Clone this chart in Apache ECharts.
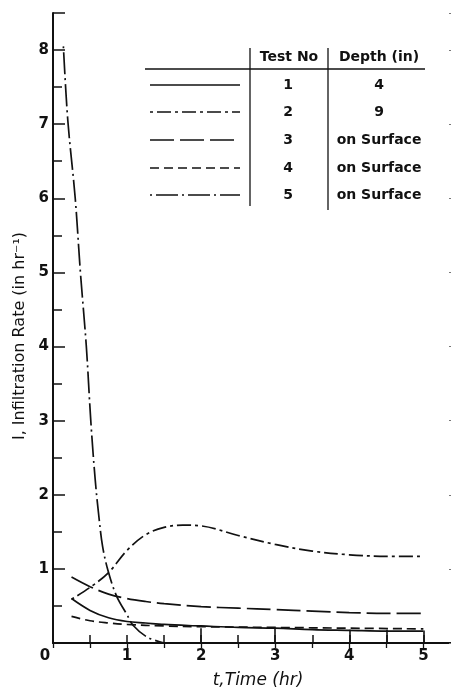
<!DOCTYPE html>
<html>
<head>
<meta charset="utf-8">
<script src="https://cdn.jsdelivr.net/npm/echarts/dist/echarts.min.js"></script>
<style>
  html, body { margin: 0; padding: 0; background: #fff; }
  #chart { width: 451px; height: 688px; }
</style>
</head>
<body>
<div id="chart"></div>
<script>
// Infiltration rate I (in/hr) against time t (hr) for five infiltrometer tests
const test1 = [[0.25,0.60],[0.5,0.44],[0.75,0.34],[1.0,0.29],[1.25,0.27],[1.5,0.25],[2.0,0.23],[2.5,0.21],[3.0,0.20],[3.5,0.18],[4.0,0.17],[4.5,0.16],[5.0,0.16]];
const test2 = [[0.25,0.59],[0.5,0.75],[0.75,0.95],[1.0,1.25],[1.25,1.46],[1.5,1.56],[1.75,1.59],[2.0,1.58],[2.5,1.45],[3.0,1.33],[3.5,1.24],[4.0,1.19],[4.5,1.17],[5.0,1.17]];
const test3 = [[0.25,0.89],[0.5,0.76],[0.75,0.66],[1.0,0.60],[1.25,0.56],[1.5,0.53],[2.0,0.49],[2.5,0.47],[3.0,0.45],[3.5,0.43],[4.0,0.41],[4.5,0.40],[5.0,0.40]];
const test4 = [[0.25,0.36],[0.5,0.30],[0.75,0.27],[1.0,0.25],[1.5,0.23],[2.0,0.22],[3.0,0.21],[4.0,0.20],[5.0,0.19]];
const test5 = [[0.14,8.05],[0.2,7.05],[0.3,6.0],[0.37,5.0],[0.45,4.0],[0.51,3.0],[0.57,2.2],[0.62,1.7],[0.67,1.3],[0.75,0.95],[0.86,0.63],[1.0,0.38],[1.08,0.24],[1.27,0.08],[1.5,0.0]];

// Gauge marks standing on the time axis
const gaugeT = [2, 3, 4, 4.5, 5];
const gaugeI = [0.20, 0.19, 0.18, 0.18, 0.17];

// Legend table
const testNos = ['1', '2', '3', '4', '5'];
const depths = ['4', '9', 'on Surface', 'on Surface', 'on Surface'];
const tableHeads = ['Test No', 'Depth (in)'];

const xTicks = [0, 1, 2, 3, 4, 5];
const yTicks = [1, 2, 3, 4, 5, 6, 7, 8];

const dashes = {
  t1: 'solid',
  t2: [3, 4, 14, 4],
  t3: [24, 6],
  t4: [9, 5],
  t5: [2, 4, 22, 4]
};

const INK = '#111';
const FONT = 'DejaVu Sans';

function curve(name, data, dash) {
  return {
    name, type: 'line', data, smooth: 0.35, symbol: 'none',
    lineStyle: { color: INK, width: 1.7, type: dash },
    silent: true, z: 3
  };
}

const series = [
  curve('Test 1', test1, dashes.t1),
  curve('Test 2', test2, dashes.t2),
  curve('Test 3', test3, dashes.t3),
  curve('Test 4', test4, dashes.t4),
  curve('Test 5', test5, dashes.t5)
];
series[0].markLine = {
  silent: true, symbol: 'none', label: { show: false },
  lineStyle: { color: INK, width: 1.6, type: 'solid' },
  data: gaugeT.map((t, i) => [{ coord: [t, 0] }, { coord: [t, gaugeI[i]] }])
};

// Legend table built as graphics
const rowY = [85, 112, 140, 168, 195];
const dashList = [dashes.t1, dashes.t2, dashes.t3, dashes.t4, dashes.t5];
const g = [];
const txt = (x, y, s) => ({
  type: 'text', x, y,
  style: { text: s, font: 'bold 14px "' + FONT + '"', fill: INK, align: 'center', verticalAlign: 'middle' }
});
g.push(txt(289, 57, tableHeads[0]));
g.push(txt(379, 57, tableHeads[1]));
g.push({ type: 'line', shape: { x1: 145, y1: 69, x2: 425, y2: 69 }, style: { stroke: INK, lineWidth: 1.4 } });
g.push({ type: 'line', shape: { x1: 250, y1: 48, x2: 250, y2: 206 }, style: { stroke: INK, lineWidth: 1.3 } });
g.push({ type: 'line', shape: { x1: 328, y1: 48, x2: 328, y2: 210 }, style: { stroke: INK, lineWidth: 1.3 } });
testNos.forEach((n, i) => {
  const d = dashList[i];
  g.push({ type: 'line', shape: { x1: 150, y1: rowY[i], x2: 240, y2: rowY[i] },
    style: { stroke: INK, lineWidth: 1.7, lineDash: d === 'solid' ? null : d } });
  g.push(txt(288, rowY[i], n));
  g.push(txt(379, rowY[i], depths[i]));
});

const tickLine = { color: INK, width: 1.5 };

const chart = echarts.init(document.getElementById('chart'), null, { renderer: 'canvas' });
chart.setOption({
  animation: false,
  backgroundColor: '#fff',
  grid: { left: 53, top: 13, width: 400, height: 630, containLabel: false, outerBoundsMode: 'none' },
  xAxis: [{
    type: 'value', min: 0, max: 5.4, interval: 0.5,
    name: 't,Time (hr)', nameLocation: 'middle', nameGap: 29,
    nameTextStyle: { fontFamily: FONT, fontSize: 17, fontStyle: 'italic', color: INK, padding: [0, 0, 0, 10] },
    axisLine: { lineStyle: { color: INK, width: 2 } },
    axisTick: { inside: true, length: 8, lineStyle: tickLine },
    splitLine: { show: false },
    axisLabel: {
      margin: 6, color: INK, fontFamily: FONT, fontSize: 15, fontWeight: 'bold',
      formatter: v => xTicks.includes(v) ? (v === 0 ? '{z|0}' : String(v)) : '',
      rich: { z: { padding: [0, 16, 0, 0], fontFamily: FONT, fontSize: 15, fontWeight: 'bold', color: INK } }
    }
  }, {
    type: 'value', position: 'top', min: 0, max: 5.4, interval: 0.5,
    axisLine: { show: true, lineStyle: { color: INK, width: 1.5 } },
    axisTick: { inside: true, length: 5, lineStyle: { color: INK, width: 1.3 } },
    axisLabel: { show: false }, splitLine: { show: false }
  }],
  yAxis: [{
    type: 'value', min: 0, max: 8.5, interval: 1,
    name: 'I, Infiltration Rate (in hr⁻¹)', nameLocation: 'middle', nameGap: 24,
    nameTextStyle: { fontFamily: FONT, fontSize: 16, color: INK, padding: [0, 16, 0, 0] },
    axisLine: { lineStyle: { color: INK, width: 2 } },
    axisTick: { inside: true, length: 12, lineStyle: tickLine },
    splitLine: { show: false },
    axisLabel: {
      margin: 4, color: INK, fontFamily: FONT, fontSize: 15, fontWeight: 'bold',
      formatter: v => yTicks.includes(v) ? String(v) : ''
    }
  }, {
    type: 'value', position: 'left', offset: 0, min: 0, max: 8.5, interval: 0.5,
    axisLine: { show: false },
    axisTick: { inside: true, length: 9, lineStyle: tickLine },
    axisLabel: { show: false }, splitLine: { show: false }
  }, {
    type: 'value', position: 'right', min: 0, max: 8.5, interval: 1,
    axisLine: { show: false },
    axisTick: { inside: true, length: 4, lineStyle: { color: '#777', width: 1.2 } },
    axisLabel: { show: false }, splitLine: { show: false }
  }],
  series,
  graphic: g
});
</script>
</body>
</html>
